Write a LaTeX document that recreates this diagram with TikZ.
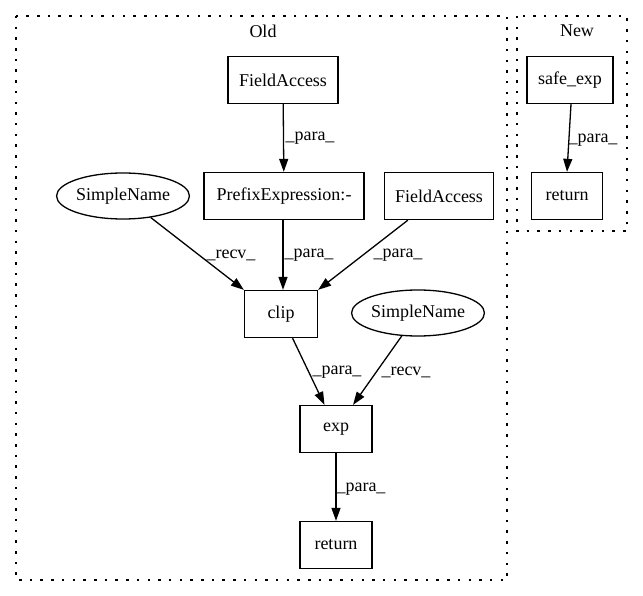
\documentclass[tikz,border=0pt]{standalone}
\usepackage{fontspec}
\setmainfont{Liberation Serif}
\usetikzlibrary{arrows.meta,shapes.geometric}
\begin{document}
\begin{tikzpicture}[x=1pt,y=-1pt,
  every node/.style={font=\fontsize{18}{20}\selectfont, inner sep=0pt},
  box/.style={draw, line width=1.3pt, rectangle, minimum height=47pt},
  ell/.style={draw, line width=1.3pt, ellipse, minimum width=114pt, minimum height=46pt},
  cluster/.style={draw, line width=1.4pt, dash pattern=on 2.5pt off 8.2pt},
  edge/.style={line width=1.3pt, -{Triangle[length=13pt,width=9pt]}},
  elabel/.style={anchor=center}]
\useasboundingbox (0,0) rectangle (643,596);
% clusters
\draw[cluster] (16,16) rectangle (507,580);
\draw[cluster] (517,16) rectangle (627,231);
\node (oldlbl) at (263,31) {Old};
\node (newlbl) at (577,31) {New};
% Old nodes
\node[box, minimum width=110pt] (fa1) at (283,80) {FieldAccess};
\node[box, minimum width=160pt] (pre) at (284,196) {PrefixExpression:-};
\node[box, minimum width=109pt] (fa2) at (439,196) {FieldAccess};
\node[ell] (sn1) at (123,196) {SimpleName};
\node[box, minimum width=73pt] (clip) at (281,314) {clip};
\node[ell] (sn2) at (418,313) {SimpleName};
\node[box, minimum width=72pt] (exp) at (336,429) {exp};
\node[box, minimum width=72pt] (ret1) at (336,545) {return};
% New nodes
\node[box, minimum width=86pt] (sexp) at (570,80) {safe\_exp};
\node[box, minimum width=71pt] (ret2) at (567,196) {return};
% edges
\draw[edge] (fa1) -- (pre);
\node[elabel] (l1) at (310,138) {\_para\_};
\draw[edge] (sn1) -- (clip.north west);
\node[elabel] (l2) at (231,255) {\_recv\_};
\draw[edge] (pre.south -| 283,0) -- (clip.north -| 283,0);
\node[elabel] (l3) at (309,255) {\_para\_};
\draw[edge] (fa2) -- (clip.north east);
\node[elabel] (l4) at (398,255) {\_para\_};
\draw[edge] (clip) -- (exp);
\node[elabel] (l5) at (337,372) {\_para\_};
\draw[edge] (sn2) -- (exp);
\node[elabel] (l6) at (406,372) {\_recv\_};
\draw[edge] (exp) -- (ret1);
\node[elabel] (l7) at (361,489) {\_para\_};
\draw[edge] ([xshift=1pt]sexp.south) -- ([xshift=0pt]ret2.north);
\node[elabel] (l8) at (593,140) {\_para\_};
\end{tikzpicture}
\end{document}
